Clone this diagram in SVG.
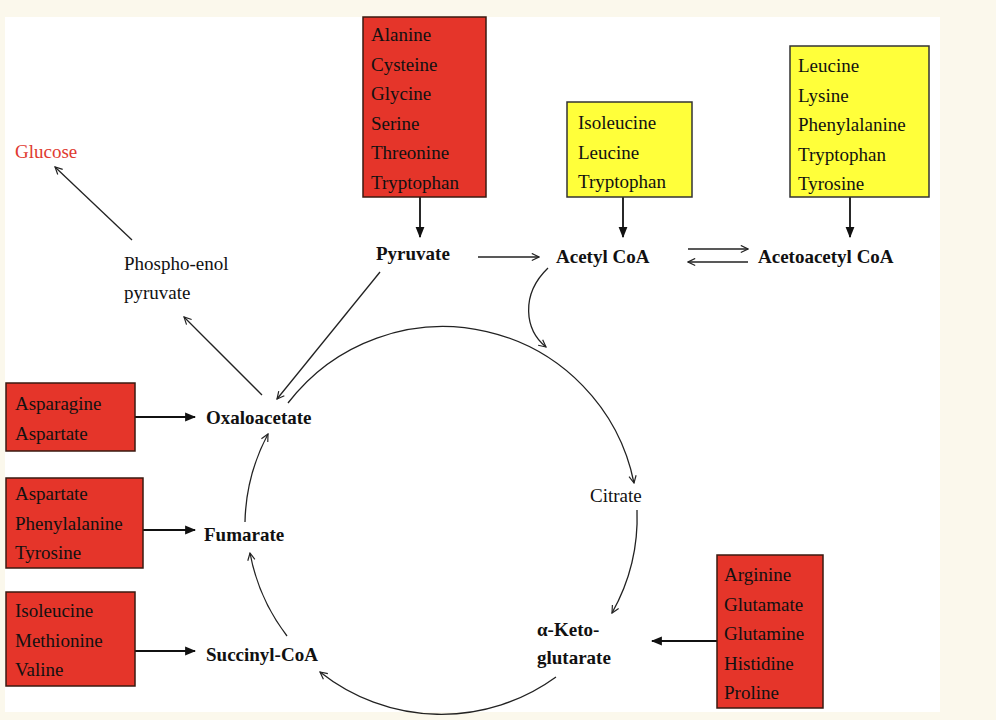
<svg xmlns="http://www.w3.org/2000/svg" width="996" height="720" viewBox="0 0 996 720">
<style>
.bx{fill:#e5352a;stroke:#3a1a10;stroke-width:1.5}
.yb{fill:#ffff3a;stroke:#333;stroke-width:1.5}
.t{font-family:"Liberation Serif",serif;font-size:19px;fill:#111}
.b{font-family:"Liberation Serif",serif;font-size:19px;font-weight:bold;fill:#111}
.l{fill:none;stroke:#222;stroke-width:1.3}
.f{fill:none;stroke:#111;stroke-width:1.8}
</style>
<defs>
<marker id="o" viewBox="0 0 10 10" refX="9" refY="5" markerWidth="9" markerHeight="9" orient="auto" markerUnits="userSpaceOnUse"><path d="M1,1 L9,5 L1,9" fill="none" stroke="#222" stroke-width="1.3"/></marker>
<marker id="s" viewBox="0 0 10 10" refX="9" refY="5" markerWidth="11" markerHeight="11" orient="auto" markerUnits="userSpaceOnUse"><path d="M0,1 L10,5 L0,9 Z" fill="#111"/></marker>
</defs>
<rect width="996" height="720" fill="#fbf8ec"/>
<rect x="5" y="17" width="935" height="695" fill="#fff"/>
<g id="connectors">
<path class="l" d="M132,240 L55,167" marker-end="url(#o)"/>
<path class="l" d="M262,395 L184,317" marker-end="url(#o)"/>
<path class="l" d="M380,272 L277,399" marker-end="url(#o)"/>
<path class="l" d="M478,257 L539,257" marker-end="url(#o)"/>
<path class="l" d="M688,249 L748,249" marker-end="url(#o)"/>
<path class="l" d="M748,262 L688,262" marker-end="url(#o)"/>
<path class="l" d="M548,268 C520,295 525,330 546,347" marker-end="url(#o)"/>
<path class="l" d="M288,403 A195,195 0 0 1 634,483" marker-end="url(#o)"/>
<path class="l" d="M637,510 A195,195 0 0 1 612,613" marker-end="url(#o)"/>
<path class="l" d="M556,677 A195,195 0 0 1 320,672" marker-end="url(#o)"/>
<path class="l" d="M287,636 A195,195 0 0 1 250,553" marker-end="url(#o)"/>
<path class="l" d="M245,522 A195,195 0 0 1 268,434" marker-end="url(#o)"/>
<path class="f" d="M420,197 L420,237" marker-end="url(#s)"/>
<path class="f" d="M623,197 L623,237" marker-end="url(#s)"/>
<path class="f" d="M850,197 L850,237" marker-end="url(#s)"/>
<path class="f" d="M135,417 L195,417" marker-end="url(#s)"/>
<path class="f" d="M143,530 L195,530" marker-end="url(#s)"/>
<path class="f" d="M135,651 L195,651" marker-end="url(#s)"/>
<path class="f" d="M717,641 L652,641" marker-end="url(#s)"/>
</g>
<g id="box-pyr"><rect class="bx" x="363" y="17" width="123" height="180"/>
<text class="t" x="371" y="41">Alanine</text><text class="t" x="371" y="70.5">Cysteine</text><text class="t" x="371" y="100">Glycine</text><text class="t" x="371" y="129.5">Serine</text><text class="t" x="371" y="159">Threonine</text><text class="t" x="371" y="188.5">Tryptophan</text></g>
<g id="box-acetyl"><rect class="yb" x="567" y="102" width="125" height="95"/>
<text class="t" x="578" y="129">Isoleucine</text><text class="t" x="578" y="158.5">Leucine</text><text class="t" x="578" y="188">Tryptophan</text></g>
<g id="box-acetoacetyl"><rect class="yb" x="790" y="46" width="139" height="151"/>
<text class="t" x="798" y="72">Leucine</text><text class="t" x="798" y="101.5">Lysine</text><text class="t" x="798" y="131">Phenylalanine</text><text class="t" x="798" y="160.5">Tryptophan</text><text class="t" x="798" y="190">Tyrosine</text></g>
<g id="box-oxalo"><rect class="bx" x="6" y="383" width="129" height="68"/>
<text class="t" x="15" y="410">Asparagine</text><text class="t" x="15" y="439.5">Aspartate</text></g>
<g id="box-fum"><rect class="bx" x="6" y="478" width="137" height="90"/>
<text class="t" x="15" y="500">Aspartate</text><text class="t" x="15" y="529.5">Phenylalanine</text><text class="t" x="15" y="559">Tyrosine</text></g>
<g id="box-succ"><rect class="bx" x="6" y="592" width="129" height="94"/>
<text class="t" x="15" y="617">Isoleucine</text><text class="t" x="15" y="646.5">Methionine</text><text class="t" x="15" y="676">Valine</text></g>
<g id="box-akg"><rect class="bx" x="717" y="555" width="106" height="153"/>
<text class="t" x="724" y="581">Arginine</text><text class="t" x="724" y="610.5">Glutamate</text><text class="t" x="724" y="640">Glutamine</text><text class="t" x="724" y="669.5">Histidine</text><text class="t" x="724" y="699">Proline</text></g>
<g id="glucose"><text class="t" x="15" y="158" fill="#e03a30" style="fill:#e03a30">Glucose</text></g>
<g id="pep"><text class="t" x="124" y="270">Phospho-enol</text><text class="t" x="124" y="299">pyruvate</text></g>
<g id="pyruvate"><text class="b" x="376" y="260">Pyruvate</text></g>
<g id="acetylcoa"><text class="b" x="556" y="263">Acetyl CoA</text></g>
<g id="acetoacetylcoa"><text class="b" x="758" y="263">Acetoacetyl CoA</text></g>
<g id="oxaloacetate"><text class="b" x="206" y="424">Oxaloacetate</text></g>
<g id="fumarate"><text class="b" x="204" y="541">Fumarate</text></g>
<g id="succinyl"><text class="b" x="206" y="661">Succinyl-CoA</text></g>
<g id="akg"><text class="b" x="537" y="636">α-Keto-</text><text class="b" x="537" y="664">glutarate</text></g>
<g id="citrate"><text class="t" x="590" y="502">Citrate</text></g>
</svg>
